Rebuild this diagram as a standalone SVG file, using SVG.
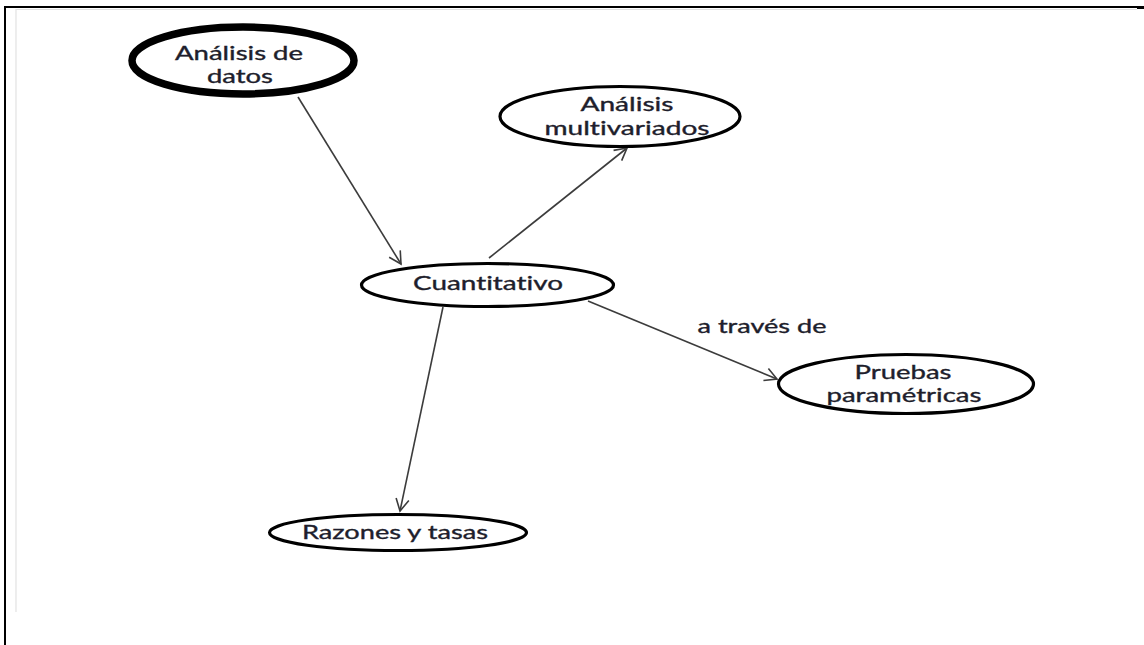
<svg xmlns="http://www.w3.org/2000/svg" width="1144" height="645" viewBox="0 0 1144 645">
  <style>
    .node { fill: #ffffff; stroke: #000000; stroke-width: 3.2; }
    .root { stroke-width: 7.5; }
    .lbl { font-family: Lato, "Open Sans", "Liberation Sans", sans-serif; font-size: 19px; font-variant-ligatures: none; fill: #1e1e2c; stroke: #1e1e2c; stroke-width: 0.35; text-anchor: middle; }
    .edge { stroke: #3c3c3c; stroke-width: 1.6; fill: none; marker-end: url(#open); }
  </style>
  <defs>
    <marker id="open" viewBox="-14 -8 16 16" refX="0" refY="0" markerWidth="16" markerHeight="16" markerUnits="userSpaceOnUse" orient="auto">
      <path d="M-12,-6.5 L0,0 L-12,6.5" fill="none" stroke="#3c3c3c" stroke-width="1.6"/>
    </marker>
  </defs>

  <rect width="1144" height="645" fill="#ffffff"/>

  <!-- page frame -->
  <g id="frame">
    <line x1="5" y1="7" x2="1144" y2="7" stroke="#000" stroke-width="2"/>
    <line x1="5" y1="6" x2="5" y2="645" stroke="#000" stroke-width="2"/>
    <rect x="1137" y="6" width="7" height="3" fill="#000"/>
    <line x1="16" y1="9.5" x2="1137" y2="9.5" stroke="#e2e2e2" stroke-width="1.2"/>
    <line x1="16" y1="9" x2="16" y2="612" stroke="#e2e2e2" stroke-width="1.2"/>
  </g>

  <!-- connectors -->
  <g id="connectors">
    <line class="edge" x1="298" y1="97" x2="401" y2="264"/>
    <line class="edge" x1="489" y1="258" x2="627" y2="148"/>
    <line class="edge" x1="443" y1="307" x2="400" y2="511"/>
    <line class="edge" x1="588" y1="301" x2="777" y2="379"/>
    <text class="lbl" x="762" y="333" textLength="129" lengthAdjust="spacingAndGlyphs">a través de</text>
  </g>

  <g id="analisis-datos">
    <ellipse class="node root" cx="243" cy="60.5" rx="111" ry="33.5"/>
    <text class="lbl" x="239" y="60" textLength="128" lengthAdjust="spacingAndGlyphs">Análisis de</text>
    <text class="lbl" x="240" y="83" textLength="66" lengthAdjust="spacingAndGlyphs">datos</text>
  </g>

  <g id="analisis-multivariados">
    <ellipse class="node" cx="620" cy="116.5" rx="120" ry="30"/>
    <text class="lbl" x="627" y="111" textLength="93" lengthAdjust="spacingAndGlyphs">Análisis</text>
    <text class="lbl" x="627" y="135" textLength="165" lengthAdjust="spacingAndGlyphs">multivariados</text>
  </g>

  <g id="cuantitativo">
    <ellipse class="node" cx="487.5" cy="285" rx="126" ry="21.5"/>
    <text class="lbl" x="488" y="290" textLength="150" lengthAdjust="spacingAndGlyphs">Cuantitativo</text>
  </g>

  <g id="pruebas-parametricas">
    <ellipse class="node" cx="906" cy="384" rx="127.5" ry="29.5"/>
    <text class="lbl" x="903" y="379" textLength="97" lengthAdjust="spacingAndGlyphs">Pruebas</text>
    <text class="lbl" x="904" y="402" textLength="155" lengthAdjust="spacingAndGlyphs">paramétricas</text>
  </g>

  <g id="razones-tasas">
    <ellipse class="node" cx="398" cy="532.5" rx="128.5" ry="18"/>
    <text class="lbl" x="395" y="539" textLength="186" lengthAdjust="spacingAndGlyphs">Razones y tasas</text>
  </g>
</svg>
